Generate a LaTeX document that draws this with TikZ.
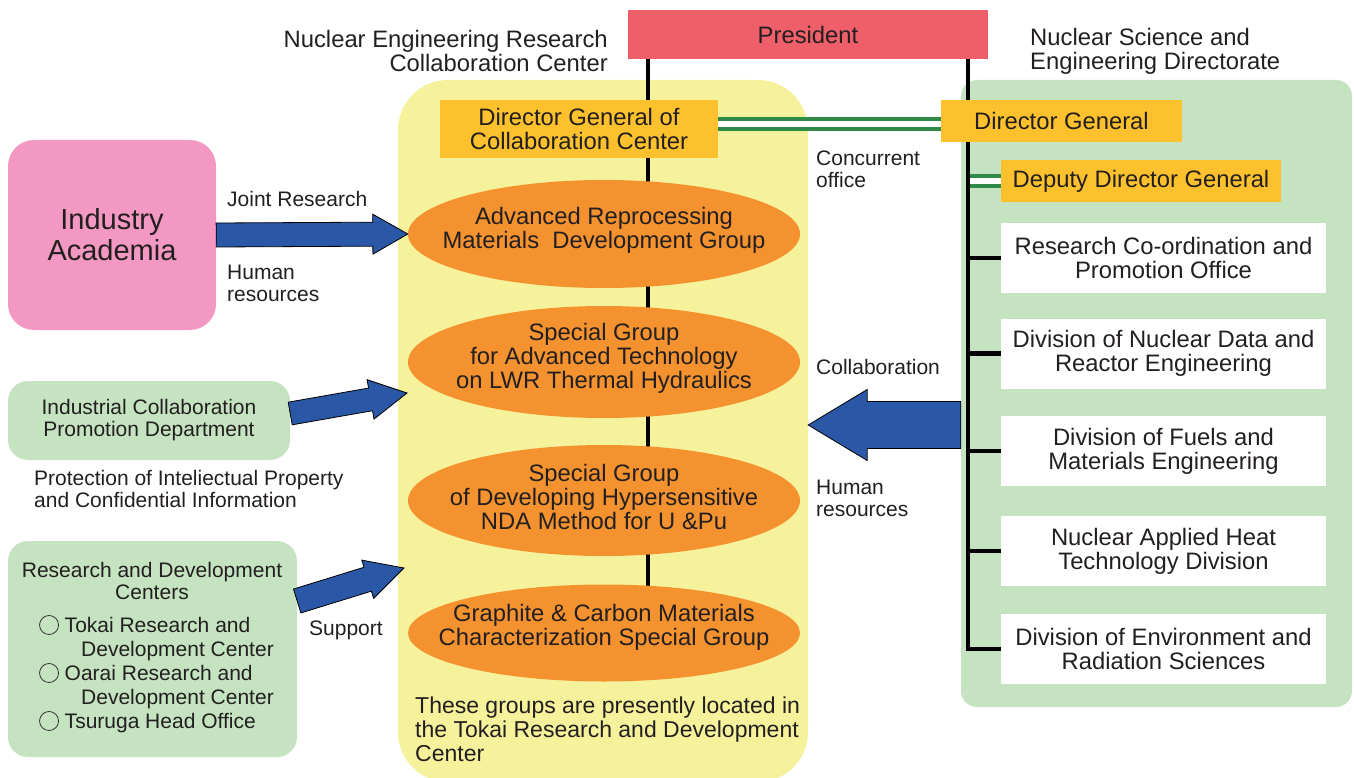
\documentclass[tikz,border=0pt]{standalone}
\usepackage{fontspec}
\setmainfont{Liberation Sans}
\usepackage{tikz}
\usetikzlibrary{shapes,calc,positioning}

\definecolor{presred}{HTML}{EF5F69}
\definecolor{panelyellow}{HTML}{F6F29B}
\definecolor{panelgreen}{HTML}{C5E3C1}
\definecolor{postorange}{HTML}{FDC12E}
\definecolor{grouporange}{HTML}{F4922F}
\definecolor{partnerpink}{HTML}{F298C2}
\definecolor{flowblue}{HTML}{2A58A6}
\definecolor{linkgreen}{HTML}{2F8A48}
\definecolor{inkgray}{HTML}{231F20}

\pgfdeclarelayer{panel}
\pgfdeclarelayer{wire}
\pgfsetlayers{panel,wire,main}

\newcommand\bigtxt{\fontsize{23.8}{24}\selectfont}
\newcommand\smalltxt{\fontsize{21}{22}\selectfont}
\newcommand\ring{\tikz[baseline={(0pt,-7.5pt)}]\draw[line width=0.7pt] (0pt,0pt) circle (9.5pt);}

% block arrow between two points: start, tip, half shaft, half head, head length
\newcommand\fatarrow[5]{%
  \coordinate (fa-base) at ($(#2)!#5!(#1)$);
  \draw[flow] ($(#1)!#3!90:(#2)$) -- ($(fa-base)!#3!90:(#2)$)
    -- ($(fa-base)!#4!90:(#2)$) -- (#2)
    -- ($(fa-base)!#4!-90:(#2)$) -- ($(fa-base)!#3!-90:(#2)$)
    -- ($(#1)!#3!-90:(#2)$) -- cycle;
}

\tikzset{
  head/.style={fill=presred, minimum width=360pt, minimum height=49pt, inner sep=0pt, font=\bigtxt},
  post/.style={fill=postorange, inner sep=0pt, font=\bigtxt, align=center},
  unit/.style={fill=white, minimum width=325pt, minimum height=70pt, inner sep=0pt, font=\bigtxt, align=center},
  group/.style={ellipse, fill=grouporange, minimum width=392pt, inner sep=0pt},
  glabel/.style={font=\bigtxt, align=center, yshift=4pt},
  partner/.style={rounded corners=20pt, fill=panelgreen, inner sep=0pt},
  spine/.style={line width=4.5pt},
  concur/.style={draw=linkgreen, line width=4.5pt, double=white, double distance=5.5pt},
  flow/.style={draw=black, line width=0.8pt, fill=flowblue, line join=miter},
  note/.style={font=\smalltxt, align=left, anchor=west, inner sep=0pt},
}

\begin{document}
\begin{tikzpicture}[x=1pt, y=-1pt, every node/.append style={text=inkgray}]
\useasboundingbox (0,0) rectangle (1354,778);

\begin{pgfonlayer}{panel}
  \node[fill=panelyellow, rounded corners=50pt, minimum width=410pt, minimum height=702pt] (ncollab) at (603,431) {};
  \node[fill=panelgreen, rounded corners=16pt, minimum width=391pt, minimum height=627pt] (nsed) at (1156.5,393.5) {};
\end{pgfonlayer}

% top of the chart
\node[head] (pres) at (808,34.5) {\raisebox{-1.5pt}{President}};
\node[note, font=\bigtxt, anchor=east, align=right] (ncollab-title) at (608,51) {Nuclear Engineering Research\\Collaboration Center};
\node[note, font=\bigtxt] (nsed-title) at (1030,51) {Nuclear Science and\\Engineering Directorate};

\node[post, minimum width=278pt, minimum height=58pt] (dgcc) at (579,129) {Director General of\\Collaboration Center};
\node[post, minimum width=241pt, minimum height=42pt] (dg) at (1061.5,121) {Director General};
\node[post, minimum width=280pt, minimum height=42pt] (ddg) at (1141,181) {Deputy Director General};

% groups of the collaboration center
\node[group, minimum height=108pt, label={[glabel]center:{Advanced Reprocessing\\Materials~ Development Group}}] (arm) at (604,234) {};
\node[group, minimum height=112pt, label={[glabel]center:{Special Group\\for Advanced Technology\\on LWR Thermal Hydraulics}}] (lwr) at (604,362) {};
\node[group, minimum height=111pt, label={[glabel]center:{Special Group\\of Developing Hypersensitive\\NDA Method for U \&Pu}}] (nda) at (604,500.5) {};
\node[group, minimum height=97pt, label={[glabel, yshift=2pt]center:{Graphite \& Carbon Materials\\Characterization Special Group}}] (gcm) at (604,633) {};
\node[note, font={\fontsize{23}{24}\selectfont}] (loc-note) at (415,729) {These groups are presently located in\\the Tokai Research and Development\\Center};

% units of the directorate
\node[unit] (rco) at (1163.5,258) {Research Co-ordination and\\Promotion Office};
\node[unit] (ndre) at (1163.5,353.5) {Division of Nuclear Data and\\Reactor Engineering};
\node[unit] (fme) at (1163.5,451) {Division of Fuels and\\Materials Engineering};
\node[unit] (naht) at (1163.5,551) {Nuclear Applied Heat\\Technology Division};
\node[unit] (envr) at (1163.5,649) {Division of Environment and\\Radiation Sciences};

% partners on the left
\node[fill=partnerpink, rounded corners=26pt, minimum width=208pt, minimum height=190pt, inner sep=0pt, align=center, font={\fontsize{29}{31}\selectfont}] (ind) at (112,235) {Industry\\Academia};
\node[partner, minimum width=282pt, minimum height=79pt, font=\smalltxt, align=center] (icpd) at (149,420.5) {Industrial Collaboration\\Promotion Department};
\node[partner, minimum width=289pt, minimum height=216pt] (rdc) at (152.5,649) {};
\node[font=\smalltxt, align=center, inner sep=0pt] (rdc-title) at (152,581) {Research and Development\\Centers};
\node[note, font={\fontsize{21}{24}\selectfont}] (rdc-list) at (39,674) {\ring\ Tokai Research and\\\hspace*{42pt}Development Center\\\ring\ Oarai Research and\\\hspace*{42pt}Development Center\\\ring\ Tsuruga Head Office};

% flow labels
\node[note] (joint-note) at (227,199) {Joint Research};
\node[note] (hr-left) at (227,283) {Human\\resources};
\node[note] (ip-note) at (34,489) {Protection of Inteliectual Property\\and Confidential Information};
\node[note] (support-note) at (309,630) {Support};
\node[note] (concur-note) at (816,169) {Concurrent\\office};
\node[note] (collab-note) at (816,367) {Collaboration};
\node[note] (hr-right) at (816,498) {Human\\resources};

% lines of command
\begin{pgfonlayer}{wire}
  \coordinate (ls) at ([xshift=20pt]pres.south west);
  \coordinate (rs) at ([xshift=-20pt]pres.south east);
  \draw[concur] ([yshift=-3pt]dg.west) -- ([yshift=-3pt]dg.west -| dgcc.east);
  \draw[concur] (rs |- ddg.west) -- (ddg.west);
  \draw[spine] (ls) -- (ls |- gcm.center);
  \draw[spine, line join=miter] (rs) -- (rs |- envr.west) -- (envr.west);
  \foreach \u in {rco,ndre,fme,naht}
    \draw[spine] (rs |- \u.west) -- (\u.west);
\end{pgfonlayer}

% block arrows
\coordinate (a2) at ([yshift=7pt]icpd.east);
\coordinate (t2) at (407,393);
\coordinate (a3) at ([yshift=48pt]rdc.east);
\coordinate (t3) at (404,568);
\coordinate (a4) at ([yshift=-31.5pt]nsed.west);
\coordinate (t4) at (ncollab.east |- a4);
\fatarrow{ind.east}{arm.west}{12pt}{20pt}{35pt}
\fatarrow{a2}{t2}{11.5pt}{20pt}{37pt}
\fatarrow{a3}{t3}{12.5pt}{20pt}{38pt}
\fatarrow{a4}{t4}{23.5pt}{35.5pt}{59pt}
\end{tikzpicture}
\end{document}
